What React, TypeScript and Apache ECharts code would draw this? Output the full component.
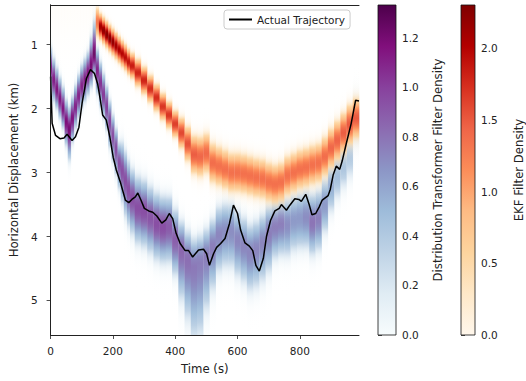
import React, { useEffect, useRef } from "react";
import * as echarts from "echarts";

// ---- data ----
const colTime = [0,10,20,30,40,50,60,70,80,90,100,110,120,130,140,150,160,170,180,190,200,210,220,230,240,250,260,
  280,300,320,340,360,380,400,420,440,460,480,500,520,540,560,580,600,620,640,660,680,700,720,740,760,780,800,820,840,860,880,900,920,940,960,980];
const dtMean = [1.38,1.55,1.7,1.85,2.0,2.2,2.32,2.15,1.97,1.8,1.65,1.55,1.45,1.32,1.15,1.4,1.6,1.78,1.97,2.2,2.42,2.63,2.85,2.98,3.12,3.27,3.4,
  3.55,3.6,3.7,3.8,3.85,3.85,4.05,4.2,4.35,4.45,4.4,4.3,4.15,3.98,3.92,3.92,4.05,4.15,4.25,4.2,4.1,3.95,3.85,3.8,3.82,3.75,3.72,3.7,3.78,3.72,3.5,3.2,3.0,2.85,2.7,2.2];
const dtSigUp = [0.2,0.2,0.2,0.2,0.2,0.2,0.2,0.2,0.2,0.2,0.2,0.2,0.2,0.25,0.3,0.2,0.2,0.2,0.2,0.2,0.2,0.2,0.2,0.28,0.28,0.28,0.28,
  0.3,0.3,0.3,0.3,0.3,0.3,0.3,0.28,0.28,0.28,0.28,0.28,0.28,0.3,0.3,0.3,0.3,0.3,0.3,0.3,0.3,0.3,0.3,0.3,0.3,0.3,0.3,0.3,0.3,0.3,0.3,0.3,0.3,0.3,0.3,0.3];
const dtSigDown = [0.2,0.2,0.18,0.18,0.18,0.22,0.28,0.22,0.2,0.2,0.2,0.2,0.2,0.2,0.2,0.22,0.22,0.22,0.22,0.25,0.25,0.25,0.25,0.3,0.35,0.35,0.35,
  0.35,0.35,0.35,0.35,0.35,0.35,0.35,0.5,0.6,0.75,0.75,0.55,0.45,0.38,0.38,0.38,0.38,0.38,0.4,0.4,0.4,0.4,0.33,0.33,0.33,0.33,0.33,0.33,0.33,0.33,0.3,0.3,0.3,0.3,0.3,0.3];
const dtPeak = [1.1,1.12,1.15,1.15,1.15,1.18,1.2,1.15,1.1,1.1,1.1,1.12,1.15,1.2,1.25,1.1,1.05,1.02,1.0,0.98,0.95,0.95,0.95,0.95,0.95,0.95,0.95,
  0.95,0.95,0.92,0.95,0.95,0.9,0.88,0.85,0.82,0.78,0.76,0.76,0.76,0.73,0.7,0.7,0.73,0.73,0.73,0.73,0.73,0.76,0.76,0.76,0.7,0.65,0.65,0.7,0.8,0.76,0.65,0.56,0.5,0.46,0.42,0.32];
const ekfMean = [0.4,0.4,0.4,0.4,0.4,0.4,0.4,0.4,0.4,0.4,0.4,0.4,0.4,0.4,0.4,0.65,0.72,0.78,0.84,0.9,0.96,1.02,1.08,1.14,1.2,1.27,1.33,
  1.44,1.56,1.69,1.83,1.97,2.1,2.24,2.38,2.55,2.72,2.75,2.7,2.85,2.9,2.95,3.0,3.0,3.02,3.05,3.08,3.1,3.15,3.18,3.15,3.05,3.0,2.95,2.92,2.88,2.85,2.75,2.62,2.5,2.38,2.25,2.15];
const ekfSig = [0.45,0.45,0.45,0.45,0.45,0.45,0.45,0.45,0.45,0.45,0.45,0.45,0.45,0.45,0.45,0.15,0.12,0.12,0.12,0.12,0.12,0.12,0.12,0.12,0.12,0.12,0.12,
  0.13,0.13,0.13,0.13,0.13,0.13,0.13,0.15,0.17,0.19,0.2,0.2,0.2,0.2,0.2,0.2,0.2,0.2,0.2,0.2,0.2,0.2,0.2,0.2,0.2,0.2,0.2,0.2,0.2,0.2,0.2,0.2,0.2,0.2,0.2,0.2];
const ekfPeak = [0.08,0.08,0.08,0.08,0.08,0.08,0.08,0.08,0.08,0.08,0.08,0.08,0.08,0.08,0.08,1.3,2.1,2.2,2.25,2.25,2.2,2.1,2.05,2.0,1.95,1.9,1.85,
  1.8,1.8,1.75,1.75,1.7,1.7,1.65,1.6,1.55,1.48,1.42,1.4,1.38,1.36,1.36,1.36,1.36,1.36,1.36,1.36,1.36,1.36,1.36,1.36,1.36,1.36,1.36,1.36,1.36,1.36,1.38,1.42,1.45,1.48,1.5,1.5];
const trajTime = [0,5,16,30,43,53,69,80,91,101,115,128,141,151,160,167,179,190,201,211,224,240,251,261,272,280,290,301,315,328,341,357,370,381,392,403,416,432,443,456,475,491,501,510,523,533,546,560,574,587,600,610,624,638,649,659,670,683,693,706,720,734,741,757,768,784,797,805,819,830,839,851,862,872,891,898,907,917,928,936,949,965,979,990];
const trajKm = [1.5,2.23,2.42,2.47,2.46,2.4,2.5,2.44,2.29,1.92,1.53,1.39,1.45,1.61,1.87,2.1,2.18,2.44,2.76,2.96,3.15,3.43,3.47,3.42,3.38,3.32,3.43,3.56,3.6,3.62,3.68,3.79,3.74,3.64,3.72,3.95,4.11,4.22,4.22,4.32,4.21,4.2,4.27,4.45,4.27,4.17,4.11,4.03,3.8,3.51,3.64,3.9,4.1,4.15,4.22,4.45,4.54,4.34,4.0,3.75,3.6,3.56,3.5,3.59,3.51,3.41,3.42,3.45,3.34,3.5,3.66,3.64,3.54,3.43,3.36,3.26,3.04,2.9,2.95,2.82,2.55,2.23,1.87,1.88];
const xTicks = [0, 200, 400, 600, 800];
const yTicks = [1, 2, 3, 4, 5];
const dtTicks = [0, 0.2, 0.4, 0.6, 0.8, 1.0, 1.2];
const ekfTicks = [0, 0.5, 1.0, 1.5, 2.0];
const dtMax = 1.333;
const ekfMax = 2.3;

const BUPU = ["#f7fcfd","#e0ecf4","#bfd3e6","#9ebcda","#8c96c6","#8c6bb1","#88419d","#810f7c","#4d004b"];
const ORRD = ["#fff7ec","#fee8c8","#fdd49e","#fdbb84","#fc8d59","#ef6548","#d7301f","#b30000","#7f0000"];

function hexToRgb(h: string) {
  return [parseInt(h.slice(1, 3), 16), parseInt(h.slice(3, 5), 16), parseInt(h.slice(5, 7), 16)];
}
function cmap(stops: string[], n: number) {
  const v = Math.max(0, Math.min(1, n));
  const p = v * (stops.length - 1);
  const i = Math.min(stops.length - 2, Math.floor(p));
  const f = p - i;
  const a = hexToRgb(stops[i]);
  const b = hexToRgb(stops[i + 1]);
  return a.map((x, k) => Math.round(x + (b[k] - x) * f));
}

function colBounds(i: number) {
  const t = colTime[i];
  const n = colTime.length;
  const l = i === 0 ? t - (colTime[1] - t) / 2 : (colTime[i - 1] + t) / 2;
  const r = i === n - 1 ? t + (t - colTime[i - 1]) / 2 : (t + colTime[i + 1]) / 2;
  return [l, r];
}

const densityRender = (stops: string[], vmax: number) => (params: any, api: any) => {
  const m = api.value(1), su = api.value(2), sd = api.value(3), pk = api.value(4);
  const l = api.value(5), r = api.value(6);
  const lo = m - 4 * su, hi = m + 4 * sd;
  const a = api.coord([l, lo]);
  const b = api.coord([r, hi]);
  const colorStops: any[] = [];
  const N = 40;
  for (let k = 0; k <= N; k++) {
    const km = lo + ((hi - lo) * k) / N;
    const z = km < m ? (km - m) / su : (km - m) / sd;
    const d = pk * Math.exp(-0.5 * z * z);
    const n = d / vmax;
    const [rr, g, bl] = cmap(stops, n);
    const al = Math.min(1, n * 4);
    colorStops.push({ offset: k / N, color: `rgba(${rr},${g},${bl},${al.toFixed(3)})` });
  }
  return {
    type: "rect",
    shape: { x: a[0], y: Math.min(a[1], b[1]), width: b[0] - a[0] + 0.3, height: Math.abs(b[1] - a[1]) },
    style: { fill: new echarts.graphic.LinearGradient(0, 0, 0, 1, colorStops) },
  };
};

const colorbarRender = (stops: string[], vmax: number) => (params: any, api: any) => {
  const a = api.coord([0, vmax]);
  const b = api.coord([1, 0]);
  const cs = stops.map((c, i) => ({ offset: i / (stops.length - 1), color: stops[stops.length - 1 - i] }));
  return {
    type: "rect",
    shape: { x: a[0], y: a[1], width: b[0] - a[0], height: b[1] - a[1] },
    style: { fill: new echarts.graphic.LinearGradient(0, 0, 0, 1, cs), stroke: "#111", lineWidth: 0.8 },
  };
};

const FONT = "DejaVu Sans";

export default function App() {
  const ref = useRef<HTMLDivElement>(null);
  useEffect(() => {
    if (!ref.current) return;
    const chart = echarts.init(ref.current, null, { renderer: "svg" });
    const dtData = colTime.map((t, i) => [t, dtMean[i], dtSigUp[i], dtSigDown[i], dtPeak[i], ...colBounds(i)]);
    const ekfData = colTime.map((t, i) => [t, ekfMean[i], ekfSig[i], ekfSig[i], ekfPeak[i], ...colBounds(i)]);
    const traj = trajTime.map((t, i) => [t, trajKm[i]]);
    const axisLine = { show: true, lineStyle: { color: "#222", width: 1 } };
    const tick = { show: true, inside: false, length: 4, lineStyle: { color: "#222", width: 0.8 } };
    const lab = { color: "#222", fontSize: 10.5, fontFamily: FONT };
    const nameStyle = { color: "#222", fontSize: 11.7, fontFamily: FONT };
    chart.setOption({
      animation: false,
      textStyle: { fontFamily: FONT },
      grid: [
        { left: 50, top: 5, width: 309, height: 330 },
        { left: 378, top: 5, width: 18, height: 330 },
        { left: 461, top: 5, width: 17, height: 330 },
      ],
      legend: {
        data: [{ name: "Actual Trajectory", icon: "rect" }],
        left: 224,
        top: 10,
        padding: [4, 5],
        itemWidth: 23,
        itemHeight: 2,
        borderColor: "#ccc",
        borderWidth: 1,
        borderRadius: 3,
        backgroundColor: "rgba(255,255,255,0.85)",
        textStyle: { fontSize: 10.5, color: "#222", fontFamily: FONT },
      },
      xAxis: [
        {
          gridIndex: 0, type: "value", min: 0, max: 990, z: 10,
          name: "Time (s)", nameLocation: "middle", nameGap: 28, nameTextStyle: nameStyle,
          axisLine, axisTick: { ...tick, customValues: xTicks },
          axisLabel: { ...lab, margin: 10, customValues: xTicks }, splitLine: { show: false },
        },
        {
          gridIndex: 0, type: "value", min: 0, max: 990, position: "top", z: 10,
          axisLine, axisTick: { show: false }, axisLabel: { show: false }, splitLine: { show: false },
        },
        { gridIndex: 1, type: "value", min: 0, max: 1, show: false },
        { gridIndex: 2, type: "value", min: 0, max: 1, show: false },
      ],
      yAxis: [
        {
          gridIndex: 0, type: "value", inverse: true, min: 0.38, max: 5.54, z: 10,
          name: "Horizontal Displacement (km)", nameLocation: "middle", nameGap: 20, nameRotate: 90, nameTextStyle: nameStyle,
          axisLine, axisTick: { ...tick, customValues: yTicks },
          axisLabel: { ...lab, margin: 13, customValues: yTicks }, splitLine: { show: false },
        },
        {
          gridIndex: 0, type: "value", inverse: true, min: 0.38, max: 5.54, position: "right", z: 10,
          axisLine, axisTick: { show: false }, axisLabel: { show: false }, splitLine: { show: false },
        },
        {
          gridIndex: 1, type: "value", min: 0, max: dtMax, position: "right",
          name: "Distribution Transformer Filter Density", nameLocation: "middle", nameGap: 36, nameRotate: 90, nameTextStyle: nameStyle,
          axisLine: { show: false }, axisTick: { ...tick, customValues: dtTicks },
          axisLabel: { ...lab, margin: 6, customValues: dtTicks, formatter: (v: number) => v.toFixed(1) },
          splitLine: { show: false },
        },
        {
          gridIndex: 2, type: "value", min: 0, max: ekfMax, position: "right",
          name: "EKF Filter Density", nameLocation: "middle", nameGap: 38, nameRotate: 90, nameTextStyle: nameStyle,
          axisLine: { show: false }, axisTick: { ...tick, customValues: ekfTicks },
          axisLabel: { ...lab, margin: 6, customValues: ekfTicks, formatter: (v: number) => v.toFixed(1) },
          splitLine: { show: false },
        },
      ],
      series: [
        {
          type: "custom", name: "DT", xAxisIndex: 0, yAxisIndex: 0, clip: true, z: 1,
          renderItem: densityRender(BUPU, dtMax), data: dtData, encode: { x: 0, y: 1 }, silent: true,
        },
        {
          type: "custom", name: "EKF", xAxisIndex: 0, yAxisIndex: 0, clip: true, z: 2,
          renderItem: densityRender(ORRD, ekfMax), data: ekfData, encode: { x: 0, y: 1 }, silent: true,
        },
        {
          type: "line", name: "Actual Trajectory", xAxisIndex: 0, yAxisIndex: 0, data: traj,
          showSymbol: false, symbol: "none", z: 5, lineStyle: { color: "#000", width: 1.5 }, itemStyle: { color: "#000" },
        },
        {
          type: "custom", xAxisIndex: 2, yAxisIndex: 2, data: [[0, 0]], renderItem: colorbarRender(BUPU, dtMax), silent: true,
        },
        {
          type: "custom", xAxisIndex: 3, yAxisIndex: 3, data: [[0, 0]], renderItem: colorbarRender(ORRD, ekfMax), silent: true,
        },
      ],
    });
    return () => chart.dispose();
  }, []);
  return <div ref={ref} style={{ position: "absolute", left: 0, top: 0, width: 526, height: 381 }} />;
}
